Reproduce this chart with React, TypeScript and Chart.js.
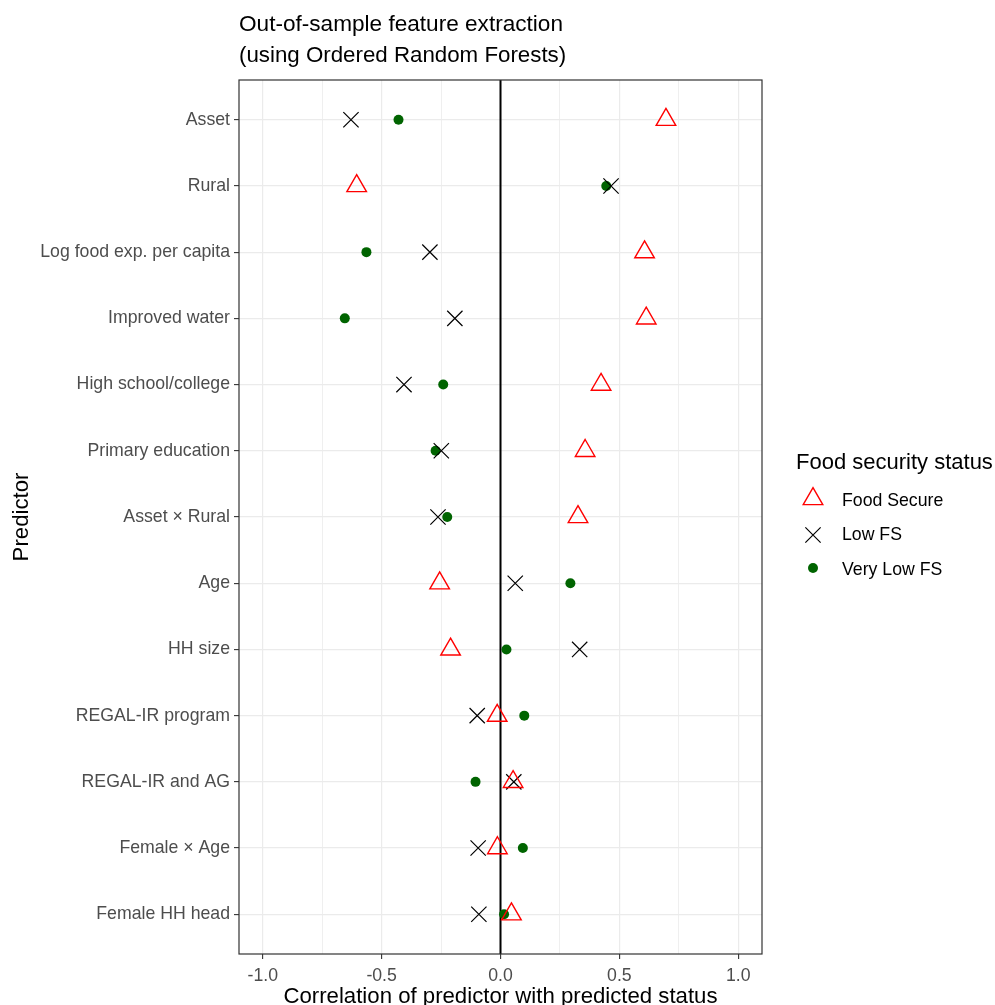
import React, { useEffect, useRef } from 'react';
import { Chart, registerables } from 'chart.js';

Chart.register(...registerables);

const predictors = [
  'Asset',
  'Rural',
  'Log food exp. per capita',
  'Improved water',
  'High school/college',
  'Primary education',
  'Asset × Rural',
  'Age',
  'HH size',
  'REGAL-IR program',
  'REGAL-IR and AG',
  'Female × Age',
  'Female HH head',
];
const foodSecure = [0.696, -0.605, 0.606, 0.613, 0.423, 0.356, 0.326, -0.256, -0.21, -0.014, 0.053, -0.013, 0.046];
const lowFS = [-0.629, 0.465, -0.297, -0.192, -0.406, -0.249, -0.263, 0.062, 0.333, -0.098, 0.056, -0.094, -0.091];
const veryLowFS = [-0.429, 0.445, -0.564, -0.655, -0.241, -0.273, -0.224, 0.294, 0.025, 0.1, -0.105, 0.094, 0.015];
const xTicks = [-1, -0.75, -0.5, -0.25, 0, 0.25, 0.5, 0.75, 1];
const seriesNames = ['Food Secure', 'Low FS', 'Very Low FS'];

const FONT = "'Liberation Sans', Arial, Helvetica, sans-serif";
const RED = '#FF0000';
const GREEN = '#006400';
const TRI_R = 11.3;
const CROSS_R = 10.8;
const DOT_R = 5;
const TICK_SIZE = 17.7;
const TITLE_SIZE = 22.6;

const isMajor = (v: number) => Math.abs(v * 2 - Math.round(v * 2)) < 1e-6;

function drawTriangle(ctx: CanvasRenderingContext2D, x: number, y: number, r: number) {
  ctx.beginPath();
  ctx.moveTo(x, y - r);
  ctx.lineTo(x + r * Math.sin((2 * Math.PI) / 3), y + r / 2);
  ctx.lineTo(x - r * Math.sin((2 * Math.PI) / 3), y + r / 2);
  ctx.closePath();
  ctx.strokeStyle = RED;
  ctx.lineWidth = 1.4;
  ctx.stroke();
}
function drawCross(ctx: CanvasRenderingContext2D, x: number, y: number, r: number) {
  const o = r * Math.SQRT1_2;
  ctx.beginPath();
  ctx.moveTo(x - o, y - o);
  ctx.lineTo(x + o, y + o);
  ctx.moveTo(x + o, y - o);
  ctx.lineTo(x - o, y + o);
  ctx.strokeStyle = '#000000';
  ctx.lineWidth = 1.2;
  ctx.stroke();
}
function drawDot(ctx: CanvasRenderingContext2D, x: number, y: number, r: number) {
  ctx.beginPath();
  ctx.arc(x, y, r, 0, Math.PI * 2);
  ctx.fillStyle = GREEN;
  ctx.fill();
}

const decor = {
  id: 'decor',
  beforeDatasetsDraw(chart: any) {
    const { ctx, chartArea, scales } = chart;
    const x0 = scales.x.getPixelForValue(0);
    ctx.save();
    ctx.strokeStyle = '#000000';
    ctx.lineWidth = 2;
    ctx.beginPath();
    ctx.moveTo(x0, chartArea.top);
    ctx.lineTo(x0, chartArea.bottom);
    ctx.stroke();
    ctx.restore();
  },
  afterDraw(chart: any) {
    const { ctx, chartArea } = chart;
    const { left, right, top, bottom } = chartArea;
    ctx.save();
    // panel border
    ctx.strokeStyle = '#333333';
    ctx.lineWidth = 1.2;
    ctx.strokeRect(left, top, right - left, bottom - top);

    // titles
    ctx.fillStyle = '#000000';
    ctx.textAlign = 'left';
    ctx.textBaseline = 'alphabetic';
    ctx.font = `${TITLE_SIZE}px ${FONT}`;
    ctx.fillText('Out-of-sample feature extraction', left, 31);
    ctx.font = `22.3px ${FONT}`;
    ctx.fillText('(using Ordered Random Forests)', left, 62);

    // x axis title
    ctx.textAlign = 'center';
    ctx.font = `22.2px ${FONT}`;
    ctx.fillText('Correlation of predictor with predicted status', (left + right) / 2, 1003);

    // y axis title
    ctx.save();
    ctx.translate(28, (top + bottom) / 2);
    ctx.rotate(-Math.PI / 2);
    ctx.textBaseline = 'alphabetic';
    ctx.fillText('Predictor', 0, 0);
    ctx.restore();

    // legend
    ctx.textAlign = 'left';
    ctx.textBaseline = 'alphabetic';
    ctx.font = `22px ${FONT}`;
    ctx.fillText('Food security status', 796, 469);
    const ys = [499, 535, 568];
    const baselines = [506, 540, 575];
    ctx.font = `${TICK_SIZE}px ${FONT}`;
    seriesNames.forEach((name, i) => {
      const y = ys[i];
      if (i === 0) drawTriangle(ctx, 813, y, TRI_R);
      else if (i === 1) drawCross(ctx, 813, y, CROSS_R);
      else drawDot(ctx, 813, y, DOT_R);
      ctx.fillStyle = '#000000';
      ctx.fillText(name, 842, baselines[i]);
    });
    ctx.restore();
  },
};

export default function App() {
  const canvasRef = useRef<HTMLCanvasElement | null>(null);

  useEffect(() => {
    document.body.style.margin = '0';
    const canvas = canvasRef.current;
    if (!canvas) return;
    Chart.defaults.font.family = FONT;

    const toPoints = (arr: number[]) => arr.map((v, i) => ({ x: v, y: i }));

    const chart = new Chart(canvas, {
      type: 'scatter',
      data: {
        datasets: [
          {
            label: seriesNames[0],
            data: toPoints(foodSecure),
            pointStyle: 'triangle',
            pointRadius: TRI_R,
            pointBorderColor: RED,
            pointBackgroundColor: 'rgba(0,0,0,0)',
            pointBorderWidth: 1.4,
            borderColor: RED,
            backgroundColor: 'rgba(0,0,0,0)',
          } as any,
          {
            label: seriesNames[1],
            data: toPoints(lowFS),
            pointStyle: 'crossRot',
            pointRadius: CROSS_R,
            pointBorderColor: '#000000',
            pointBorderWidth: 1.2,
            borderColor: '#000000',
          } as any,
          {
            label: seriesNames[2],
            data: toPoints(veryLowFS),
            pointStyle: 'circle',
            pointRadius: DOT_R,
            pointBorderWidth: 0,
            pointBackgroundColor: GREEN,
            pointBorderColor: GREEN,
            backgroundColor: GREEN,
          } as any,
        ],
      },
      options: {
        responsive: false,
        animation: false,
        events: [],
        layout: { padding: { left: 0, right: 233, top: 80, bottom: 0 } },
        plugins: {
          legend: { display: false },
          title: { display: false },
          tooltip: { enabled: false },
        },
        scales: {
          x: {
            type: 'linear',
            min: -1.1,
            max: 1.1,
            afterBuildTicks: (scale: any) => {
              scale.ticks = xTicks.map((v) => ({ value: v }));
            },
            afterFit: (scale: any) => {
              scale.height = 51;
            },
            ticks: {
              autoSkip: false,
              maxRotation: 0,
              padding: 6,
              color: '#4D4D4D',
              font: { size: TICK_SIZE, family: FONT },
              callback: (v: any) => (isMajor(Number(v)) ? Number(v).toFixed(1) : ''),
            },
            grid: {
              color: '#EBEBEB',
              lineWidth: (c: any) => (c.tick && isMajor(c.tick.value) ? 1.2 : 0.8),
              tickColor: (c: any) => (c.tick && isMajor(c.tick.value) ? '#333333' : 'rgba(0,0,0,0)'),
              tickWidth: 1.1,
              tickLength: 5,
            },
            border: { display: false },
          },
          y: {
            type: 'linear',
            min: -0.6,
            max: 12.6,
            reverse: true,
            afterBuildTicks: (scale: any) => {
              scale.ticks = predictors.map((_, i) => ({ value: i }));
            },
            afterFit: (scale: any) => {
              scale.width = 239;
            },
            ticks: {
              autoSkip: false,
              padding: 4,
              color: '#4D4D4D',
              font: { size: TICK_SIZE, family: FONT },
              callback: (v: any) => predictors[Math.round(Number(v))] ?? '',
            },
            grid: {
              color: '#EBEBEB',
              lineWidth: 1.2,
              tickColor: '#333333',
              tickWidth: 1.1,
              tickLength: 5,
            },
            border: { display: false },
          },
        },
      },
      plugins: [decor],
    } as any);

    return () => {
      chart.destroy();
    };
  }, []);

  return (
    <div style={{ width: 995, height: 1005, background: '#ffffff' }}>
      <canvas ref={canvasRef} width={995} height={1005} style={{ display: 'block' }} />
    </div>
  );
}
